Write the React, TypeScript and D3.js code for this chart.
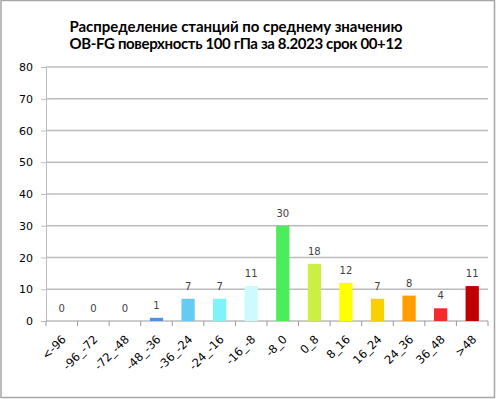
import { axisLeft, scaleBand, scaleLinear, select } from "d3";
import React, { useEffect, useRef } from "react";

const titleLines = [
    "Распределение станций по среднему значению",
    "OB-FG поверхность 100 гПа за 8.2023 срок 00+12",
];
const categories = [
    "<-96", "-96_-72", "-72_-48", "-48_-36", "-36_-24", "-24_-16", "-16_-8", "-8_0",
    "0_8", "8_16", "16_24", "24_36", "36_48", ">48",
];
const counts = [0, 0, 0, 1, 7, 7, 11, 30, 18, 12, 7, 8, 4, 11];
const barColors = [
    "#2f6fd0", "#3a80dc", "#4590e0", "#4a92e2", "#66cbf2", "#7ef4fa", "#cbfbfe", "#4ced5a",
    "#cbf043", "#ffff00", "#f8d000", "#ff9c00", "#f52a2a", "#c00000",
];
const yTicks = [0, 10, 20, 30, 40, 50, 60, 70, 80];

const W = 496;
const H = 399;

const App: React.FC = () => {
    const svgRef = useRef<SVGSVGElement>(null);

    useEffect(() => {
        if (!svgRef.current) return;
        svgRef.current.innerHTML = "";

        const left = 46,
            right = 488,
            top = 67,
            bottom = 321;

        const step = (right - left) / categories.length;
        const xs = scaleBand<string>()
            .domain(categories)
            .range([left, right])
            .paddingInner(0.58)
            .paddingOuter(0.29);

        const y = scaleLinear().domain([0, 80]).range([bottom, top]);

        const svg = select(svgRef.current);

        svg.append("rect")
            .attr("x", 1)
            .attr("y", 0.5)
            .attr("width", W - 2.5)
            .attr("height", H - 2)
            .attr("fill", "#fff")
            .attr("stroke", "#a6a6a6")
            .attr("stroke-width", 1.5);

        svg.append("g")
            .selectAll("text")
            .data(titleLines)
            .enter()
            .append("text")
            .attr("x", 236)
            .attr("y", (d, i) => 32 + i * 17)
            .attr("text-anchor", "middle")
            .attr("font-family", "Lato, 'Open Sans', sans-serif")
            .attr("font-weight", "bold")
            .attr("font-size", 15)
            .attr("fill", "#000")
            .attr("textLength", 333)
            .attr("lengthAdjust", "spacing")
            .text(d => d);

        // gridlines
        svg.append("g")
            .selectAll("line")
            .data(yTicks.slice(1))
            .enter()
            .append("line")
            .attr("x1", left)
            .attr("x2", right)
            .attr("y1", d => y(d))
            .attr("y2", d => y(d))
            .attr("stroke", "#bcbcbc")
            .attr("stroke-width", 1.3);

        svg.append("g")
            .attr("transform", `translate(${left},0)`)
            .call(axisLeft(y).tickValues(yTicks).tickSize(5).tickPadding(8))
            .call(g => g.select(".domain").attr("stroke", "#bcbcbc"))
            .call(g => g.selectAll(".tick line").attr("stroke", "#bcbcbc"))
            .call(g =>
                g
                    .selectAll(".tick text")
                    .attr("font-family", "'DejaVu Sans', Verdana, sans-serif")
                    .attr("font-size", 11)
                    .attr("fill", "#000"),
            );

        const xAxis = svg
            .append("g")
            .attr("transform", `translate(0,${bottom})`);
        xAxis
            .append("line")
            .attr("x1", left)
            .attr("x2", right)
            .attr("stroke", "#999");
        xAxis
            .selectAll(".sep")
            .data([...categories.map((c, i) => i), categories.length])
            .enter()
            .append("line")
            .attr("x1", i => left + i * step)
            .attr("x2", i => left + i * step)
            .attr("y1", 0)
            .attr("y2", 5)
            .attr("stroke", "#999");
        xAxis
            .selectAll("text")
            .data(categories)
            .enter()
            .append("text")
            .attr("font-family", "'DejaVu Sans', Verdana, sans-serif")
            .attr("font-size", 11.5)
            .attr("fill", "#000")
            .attr("text-anchor", "end")
            .attr(
                "transform",
                d =>
                    `translate(${(xs(d) as number) + xs.bandwidth() / 2 + 5},${19}) rotate(-45)`,
            )
            .text(d => d);

        svg.append("g")
            .selectAll("rect")
            .data(counts)
            .enter()
            .append("rect")
            .attr("x", (d, i) => xs(categories[i]) as number)
            .attr("width", xs.bandwidth())
            .attr("y", d => y(d))
            .attr("height", d => bottom - y(d))
            .attr("fill", (d, i) => barColors[i]);

        svg.append("g")
            .selectAll("text")
            .data(counts)
            .enter()
            .append("text")
            .attr("x", (d, i) => (xs(categories[i]) as number) + xs.bandwidth() / 2)
            .attr("y", d => y(d) - 9)
            .attr("text-anchor", "middle")
            .attr("font-family", "'DejaVu Sans', Verdana, sans-serif")
            .attr("font-size", 10)
            .attr("fill", "#404040")
            .text(d => d);
    }, []);

    return (
        <div style={{ position: "absolute", left: 0, top: 0 }}>
            <svg ref={svgRef} width={W} height={H}></svg>
        </div>
    );
};

export default App;
